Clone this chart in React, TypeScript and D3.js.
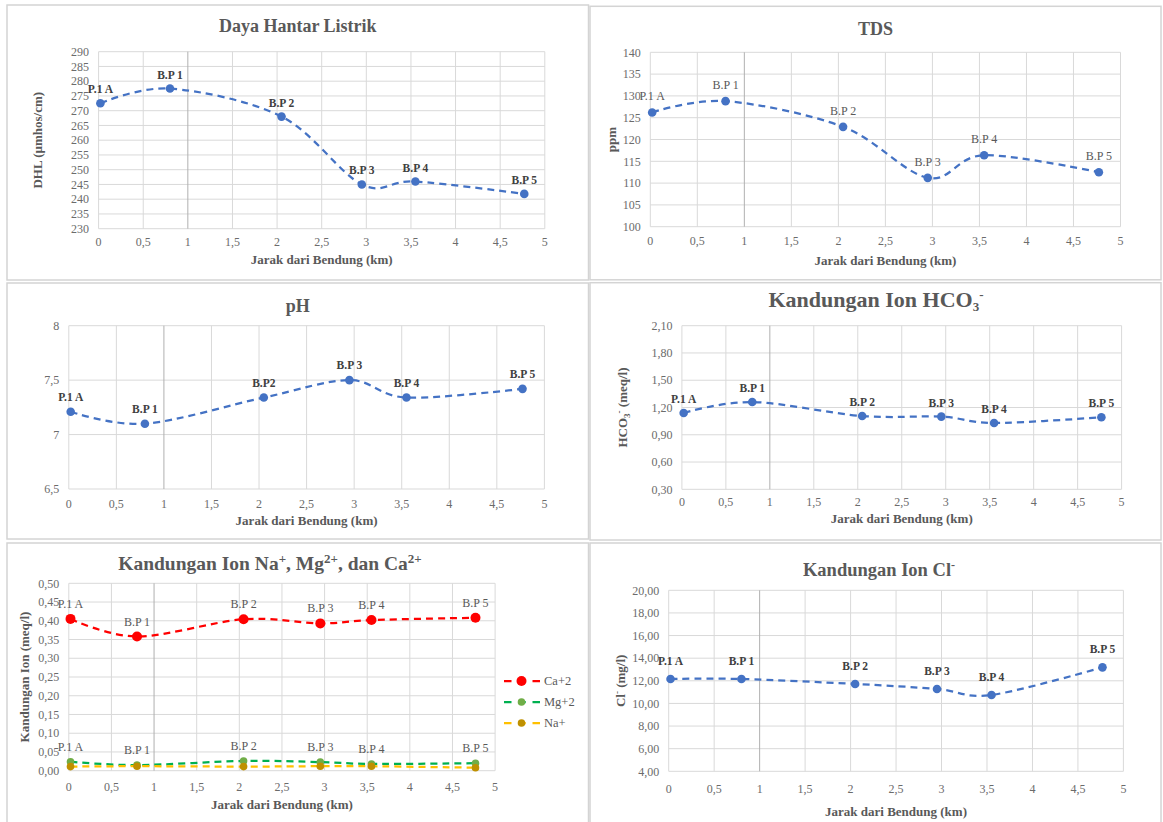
import React from 'react';
import * as d3 from 'd3';

// sampling stations and their distance from the weir
const stations = ['P.1 A', 'B.P 1', 'B.P 2', 'B.P 3', 'B.P 4', 'B.P 5'];
const phStations = ['P.1 A', 'B.P 1', 'B.P2', 'B.P 3', 'B.P 4', 'B.P 5'];
const distanceKm = [0.02, 0.8, 2.05, 2.95, 3.55, 4.77];

// measured values
const dhl = [272.5, 277.5, 268, 245, 246, 241.8];
const tds = [126.2, 128.8, 122.9, 111.2, 116.4, 112.5];
const ph = [7.21, 7.1, 7.34, 7.5, 7.34, 7.42];
const hco3 = [1.14, 1.26, 1.106, 1.1, 1.03, 1.092];
const ca = [0.405, 0.358, 0.404, 0.393, 0.402, 0.408];
const mg = [0.024, 0.015, 0.026, 0.023, 0.018, 0.02];
const na = [0.011, 0.012, 0.011, 0.012, 0.012, 0.008];
const cl = [12.16, 12.16, 11.72, 11.28, 10.75, 13.19];
const ionNames = ['Ca+2', 'Mg+2', 'Na+'];

// axis ticks
const xTicks = [0, 0.5, 1, 1.5, 2, 2.5, 3, 3.5, 4, 4.5, 5];
const dhlTicks = [230, 235, 240, 245, 250, 255, 260, 265, 270, 275, 280, 285, 290];
const tdsTicks = [100, 105, 110, 115, 120, 125, 130, 135, 140];
const phTicks = [6.5, 7, 7.5, 8];
const hco3Ticks = [0.3, 0.6, 0.9, 1.2, 1.5, 1.8, 2.1];
const ionTicks = [0, 0.05, 0.1, 0.15, 0.2, 0.25, 0.3, 0.35, 0.4, 0.45, 0.5];
const clTicks = [4, 6, 8, 10, 12, 14, 16, 18, 20];

const FONT = '"Liberation Serif", "Times New Roman", serif';
const BLUE = '#4472C4';
const comma = (v: number) => String(v).replace('.', ',');
const comma2 = (v: number) => v.toFixed(2).replace('.', ',');

type Series = { values: number[]; line: string; marker: string; r: number; labels?: string[] };

type PanelProps = {
  box: [number, number, number, number];
  plot: { l: number; r: number; t: number; b: number };
  yTicks: number[];
  yFmt: (v: number) => string;
  series: Series[];
  title: React.ReactNode;
  titleX?: number;
  titleY: number;
  titleSize: number;
  yTitle?: React.ReactNode;
  yTitleX?: number;
  labelBold: boolean;
  labelGap: number;
  tickGap: number;
  xTitleGap: number;
  children?: React.ReactNode;
};

const Panel = (p: PanelProps) => {
  const { plot } = p;
  const x = d3.scaleLinear().domain([0, 5]).range([plot.l, plot.r]);
  const y = d3.scaleLinear().domain(d3.extent(p.yTicks) as [number, number]).range([plot.b, plot.t]);
  const line = d3.line<number>()
    .x((_, i) => x(distanceKm[i]))
    .y(d => y(d))
    .curve(d3.curveCardinal);
  const boxMid = p.box[0] + p.box[2] / 2;
  const midX = (plot.l + plot.r) / 2;
  const midY = (plot.t + plot.b) / 2;

  return (
    <g fontFamily={FONT}>
      <rect x={p.box[0]} y={p.box[1]} width={p.box[2]} height={p.box[3]} fill="#fff" stroke="#d4d4d4" strokeWidth={1.5} />
      <text x={p.titleX ?? boxMid} y={p.titleY} textAnchor="middle" fontWeight="bold" fontSize={p.titleSize} fill="#595959">{p.title}</text>

      {p.yTicks.map(t => (
        <line key={'gy' + t} x1={plot.l} x2={plot.r} y1={y(t)} y2={y(t)} stroke="#d9d9d9" strokeWidth={1} />
      ))}
      {xTicks.map(t => (
        <line key={'gx' + t} x1={x(t)} x2={x(t)} y1={plot.t} y2={plot.b} stroke={t === 1 ? '#b0b0b0' : '#d9d9d9'} strokeWidth={1} />
      ))}

      {p.yTicks.map(t => (
        <text key={'ty' + t} x={plot.l - 9.5} y={y(t)} dy="0.35em" textAnchor="end" fontSize={12} fill="#6b6b6b">{p.yFmt(t)}</text>
      ))}
      {xTicks.map(t => (
        <text key={'tx' + t} x={x(t)} y={plot.b + p.tickGap} textAnchor="middle" fontSize={12} fill="#6b6b6b">{comma(t)}</text>
      ))}
      <text x={midX} y={plot.b + p.xTitleGap} textAnchor="middle" fontWeight="bold" fontSize={13} fill="#595959">Jarak dari Bendung (km)</text>
      {p.yTitle && (
        <text transform={`translate(${p.yTitleX},${midY}) rotate(-90)`} textAnchor="middle" fontWeight="bold" fontSize={13} fill="#595959">{p.yTitle}</text>
      )}

      {p.series.map((s, si) => (
        <g key={'s' + si}>
          <path d={line(s.values) || ''} fill="none" stroke={s.line} strokeWidth={2.25} strokeDasharray="7 5" />
          {s.values.map((v, i) => (
            <circle key={i} cx={x(distanceKm[i])} cy={y(v)} r={s.r} fill={s.marker} />
          ))}
          {s.labels && s.values.map((v, i) => (
            <text key={'l' + i} x={x(distanceKm[i])} y={y(v) - p.labelGap} textAnchor="middle"
              fontSize={p.labelBold ? 11.5 : 12} fontWeight={p.labelBold ? 'bold' : 'normal'}
              fill={p.labelBold ? '#404040' : '#595959'}>{s.labels![i]}</text>
          ))}
        </g>
      ))}
      {p.children}
    </g>
  );
};

const ionSeries: Series[] = [
  { values: ca, line: '#FF0000', marker: '#FF0000', r: 5, labels: stations },
  { values: mg, line: '#00B050', marker: '#70AD47', r: 3.8, labels: stations },
  { values: na, line: '#FFC000', marker: '#BF9000', r: 3.8 },
];

const Legend = () => (
  <g fontFamily={FONT}>
    {ionSeries.map((s, i) => {
      const ly = 681 + i * 21;
      return (
        <g key={ionNames[i]}>
          <line x1={504} x2={540} y1={ly} y2={ly} stroke={s.line} strokeWidth={2.25} strokeDasharray="7.5 6.75" />
          <circle cx={521.5} cy={ly} r={s.r} fill={s.marker} />
          <text x={544} y={ly} dy="0.35em" fontSize={12.5} fill="#595959">{ionNames[i]}</text>
        </g>
      );
    })}
  </g>
);

const App = () => (
  <svg width={1163} height={822} style={{ position: 'fixed', left: 0, top: 0, background: '#fff' }}>
    <Panel
      box={[7, 5, 581.5, 275]} plot={{ l: 98.6, r: 544.8, t: 51.7, b: 228.7 }}
      yTicks={dhlTicks} yFmt={v => String(v)}
      series={[{ values: dhl, line: BLUE, marker: BLUE, r: 4.3, labels: stations }]}
      title="Daya Hantar Listrik" titleY={32} titleSize={18}
      yTitle="DHL (µmhos/cm)" yTitleX={42}
      labelBold labelGap={10} tickGap={17} xTitleGap={35}
    />
    <Panel
      box={[590, 6.3, 571, 273.5]} plot={{ l: 650.3, r: 1120.5, t: 52.3, b: 226.7 }}
      yTicks={tdsTicks} yFmt={v => String(v)}
      series={[{ values: tds, line: BLUE, marker: BLUE, r: 4.3, labels: stations }]}
      title="TDS" titleY={35} titleSize={18}
      yTitle="ppm" yTitleX={616}
      labelBold={false} labelGap={12} tickGap={18} xTitleGap={38}
    />
    <Panel
      box={[7, 283, 581.5, 256]} plot={{ l: 68.8, r: 544.4, t: 325.7, b: 489 }}
      yTicks={phTicks} yFmt={comma}
      series={[{ values: ph, line: BLUE, marker: BLUE, r: 4.3, labels: phStations }]}
      title="pH" titleY={312} titleSize={18}
      labelBold labelGap={11} tickGap={18.5} xTitleGap={36}
    />
    <Panel
      box={[590, 282.7, 571, 257.3]} plot={{ l: 681.9, r: 1121.6, t: 325.7, b: 489.3 }}
      yTicks={hco3Ticks} yFmt={comma2}
      series={[{ values: hco3, line: BLUE, marker: BLUE, r: 4.3, labels: stations }]}
      title={<>Kandungan Ion HCO<tspan dy={4} fontSize={13}>3</tspan><tspan dy={-12} fontSize={13}>-</tspan></>}
      titleX={876} titleY={307} titleSize={22}
      yTitle={<>HCO<tspan dy={3} fontSize={9}>3</tspan><tspan dy={-8} fontSize={9}>-</tspan><tspan dy={5}> (meq/l)</tspan></>}
      yTitleX={627}
      labelBold labelGap={10} tickGap={17} xTitleGap={34}
    />
    <Panel
      box={[7, 543, 581.5, 285]} plot={{ l: 68.8, r: 495.1, t: 583.3, b: 770.7 }}
      yTicks={ionTicks} yFmt={comma2}
      series={ionSeries}
      title={<>Kandungan Ion Na<tspan dy={-7} fontSize={13}>+</tspan><tspan dy={7}>, Mg</tspan><tspan dy={-7} fontSize={13}>2+</tspan><tspan dy={7}>, dan Ca</tspan><tspan dy={-7} fontSize={13}>2+</tspan></>}
      titleX={270} titleY={570} titleSize={19.5}
      yTitle="Kandungan Ion (meq/l)" yTitleX={29}
      labelBold={false} labelGap={11} tickGap={20} xTitleGap={38}
    >
      <Legend />
    </Panel>
    <Panel
      box={[590, 543, 571, 285]} plot={{ l: 668.7, r: 1123.4, t: 590.3, b: 771.3 }}
      yTicks={clTicks} yFmt={comma2}
      series={[{ values: cl, line: BLUE, marker: BLUE, r: 4.3, labels: stations }]}
      title={<>Kandungan Ion Cl<tspan dy={-7} fontSize={12}>-</tspan></>}
      titleX={879} titleY={576} titleSize={18.5}
      yTitle={<>Cl<tspan dy={-5} fontSize={9}>-</tspan><tspan dy={5}>  (mg/l)</tspan></>}
      yTitleX={625}
      labelBold labelGap={14} tickGap={22} xTitleGap={45}
    />
  </svg>
);

export default App;
